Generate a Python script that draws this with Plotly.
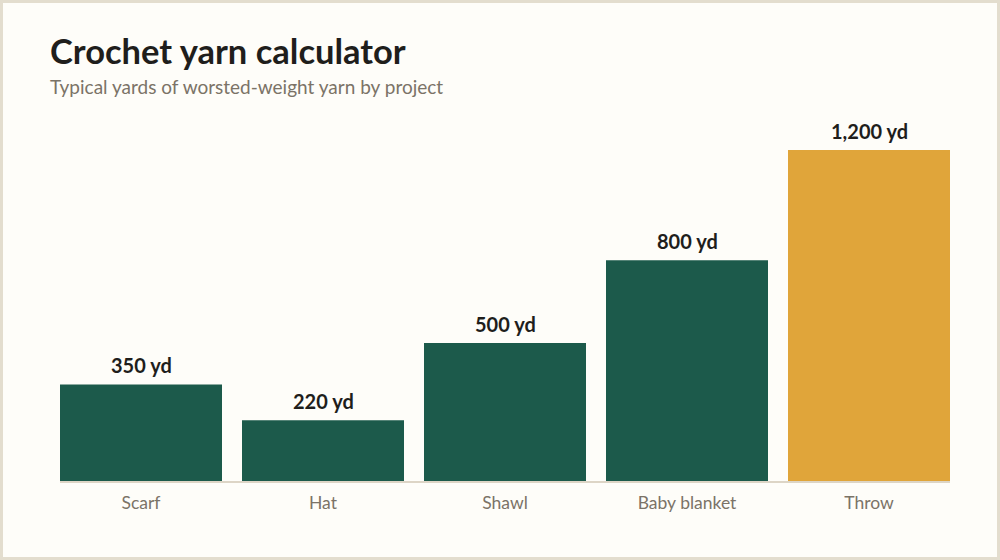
import plotly.graph_objects as go

categories = ["Scarf", "Hat", "Shawl", "Baby blanket", "Throw"]
yards = [350, 220, 500, 800, 1200]
labels = ["350 yd", "220 yd", "500 yd", "800 yd", "1,200 yd"]
highlight = "Throw"

GREEN = "#1C5A4B"
GOLD = "#E0A53A"
colors = [GOLD if c == highlight else GREEN for c in categories]

W, H = 1000, 560
ML, MR, MT, MB = 60, 50, 95, 79
PW, PH = W - ML - MR, H - MT - MB

def px_x(px):
    return (px - ML) / PW

def px_y(py):
    return (H - MB - py) / PH

fig = go.Figure()
fig.add_trace(go.Bar(
    x=categories, y=yards, marker=dict(color=colors, line=dict(width=0)),
    hoverinfo="skip",
))

for c, v, t in zip(categories, yards, labels):
    fig.add_annotation(x=c, y=v, text=t, showarrow=False, yanchor="bottom",
                       yshift=5, font=dict(family="Lato", size=20, color="#1F1E1C", weight="bold"))

fig.add_annotation(xref="paper", yref="paper", x=px_x(48), y=px_y(50), xanchor="left",
                   yanchor="middle", text="<b>Crochet yarn calculator</b>", showarrow=False,
                   font=dict(family="Lato", size=34.5, color="#1F1E1C"))
fig.add_annotation(xref="paper", yref="paper", x=px_x(48), y=px_y(87), xanchor="left",
                   yanchor="middle", text="Typical yards of worsted-weight yarn by project",
                   showarrow=False, font=dict(family="Lato", size=19, color="#7B7367"))

fig.add_shape(type="rect", xref="paper", yref="paper",
              x0=px_x(1.5), x1=px_x(W - 1.5), y0=px_y(H - 1.5), y1=px_y(1.5),
              line=dict(color="#E3DDCE", width=3), fillcolor="rgba(0,0,0,0)", layer="above")

gap = 20 / 182
fig.update_layout(
    width=W, height=H, margin=dict(l=ML, r=MR, t=MT, b=MB, pad=0),
    paper_bgcolor="#FEFDF9", plot_bgcolor="#FEFDF9",
    bargap=gap, showlegend=False,
    xaxis=dict(range=[-0.5 + gap / 2, 4.5 - gap / 2], showline=True, linecolor="#DDD5C6",
               linewidth=2, ticks="", showgrid=False, zeroline=False,
               tickfont=dict(family="Lato", size=17.5, color="#7B7367"), ticklabelstandoff=5),
    yaxis=dict(range=[0, 386 / (331 / 1200)], visible=False, showgrid=False, zeroline=False),
)

fig.write_html("out.html")
